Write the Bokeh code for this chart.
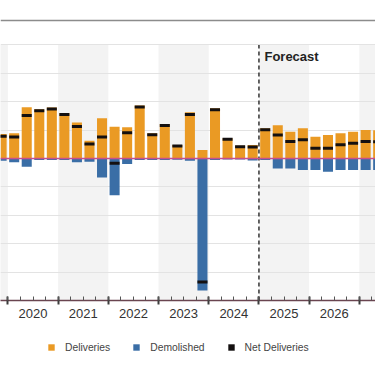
from bokeh.plotting import figure
from bokeh.layouts import column
from bokeh.models import (LinearAxis, FixedTicker, Grid, Span, Label, Legend,
                          LegendItem, Range1d)
from bokeh.embed import file_html
from bokeh.resources import INLINE

# ---- data ----
periods = ["2019 Q4",
           "2020 Q1", "2020 Q2", "2020 Q3", "2020 Q4",
           "2021 Q1", "2021 Q2", "2021 Q3", "2021 Q4",
           "2022 Q1", "2022 Q2", "2022 Q3", "2022 Q4",
           "2023 Q1", "2023 Q2", "2023 Q3", "2023 Q4",
           "2024 Q1", "2024 Q2", "2024 Q3", "2024 Q4",
           "2025 Q1", "2025 Q2", "2025 Q3", "2025 Q4",
           "2026 Q1", "2026 Q2", "2026 Q3", "2026 Q4",
           "2027 Q1", "2027 Q2"]
deliveries = [433,
              445, 905, 869, 898,
              799, 633, 315, 710,
              562, 551, 933, 445,
              610, 239, 816, 150,
              887, 357, 226, 239,
              534, 587, 474, 534,
              385, 415, 445, 474,
              504, 500]
demolished = [40,
              67, 145, 27, 27,
              25, 67, 57, 332,
              645, 97, 27, 27,
              27, 20, 39, 2324,
              27, 18, 18, 35,
              27, 173, 173, 203,
              203, 233, 203, 203,
              203, 203]
net_deliveries = [393,
                  378, 760, 842, 871,
                  774, 566, 258, 378,
                  -83, 454, 906, 418,
                  583, 219, 777, -2174,
                  860, 339, 208, 204,
                  507, 414, 301, 331,
                  182, 182, 242, 271,
                  301, 297]
year_labels = [2019, 2020, 2021, 2022, 2023, 2024, 2025, 2026, 2027]
shaded_years = [2019, 2021, 2023, 2025, 2027]
forecast_start = 2025
y_ticks = [-2500, -2000, -1500, -1000, -500, 0, 500, 1000, 1500, 2000]
legend_labels = ["Deliveries", "Demolished", "Net Deliveries"]

# ---- styling ----
FONT = "Liberation Sans"
ORANGE = "#EA9A24"
BLUE = "#3A6EA6"
BLACK = "#141010"

x = [int(p[:4]) + (int(p[-1]) - 0.5) / 4 for p in periods]
neg_demo = [-d for d in demolished]

x0, x1 = 2019.8526, 2027.3215
p = figure(width=375, height=332,
           x_range=Range1d(x0, x1), y_range=Range1d(-2500, 2466.7),
           x_axis_type=None, y_axis_type=None,
           output_backend="svg", toolbar_location=None,
           min_border_left=0, min_border_right=0,
           min_border_top=18, min_border_bottom=32,
           outline_line_color=None,
           background_fill_color="white", border_fill_color="white")

# alternating year shading
p.quad(left=shaded_years, right=[y + 1 for y in shaded_years],
       bottom=y_ticks[0], top=y_ticks[-1],
       fill_color="#f3f3f3", line_color=None, level="image")

p.add_layout(Grid(dimension=1, ticker=FixedTicker(ticks=y_ticks),
                  grid_line_color="#e3e3e3", grid_line_width=1))

p.vbar(x=x, top=deliveries, bottom=0, width=0.2,
       fill_color=ORANGE, line_color=None)
p.vbar(x=x, top=0, bottom=neg_demo, width=0.2,
       fill_color=BLUE, line_color=None)
p.rect(x=x, y=net_deliveries, width=0.2, height=3,
       height_units="screen", fill_color=BLACK, line_color=None)

p.add_layout(Span(location=0, dimension="width", line_color="#c8508a",
                  line_width=1.5))
p.add_layout(Span(location=2431.5, dimension="width", line_color="#8c8c8c",
                  line_width=1.5))

p.segment(x0=forecast_start, y0=y_ticks[0], x1=forecast_start, y1=y_ticks[-1],
          line_dash="4 3", line_color="#333333", line_width=1.5)
p.add_layout(Label(x=forecast_start, y=y_ticks[-1], x_offset=5.5, y_offset=-12,
                   text="Forecast", text_font=FONT, text_font_size="13px",
                   text_font_style="bold", text_color="#222222",
                   text_baseline="alphabetic"))

# x axis: line + ticks at year boundaries, minor ticks at quarters
bounds = [y + 1 for y in year_labels]
qt = []
v = 2019.75
while v < x1:
    qt.append(v)
    v += 0.25
axA = LinearAxis(ticker=FixedTicker(ticks=[2019] + bounds, minor_ticks=qt),
                 major_label_text_font_size="0px", major_label_text_alpha=0,
                 major_label_standoff=0,
                 axis_line_color="#6a4550", axis_line_width=1.5,
                 major_tick_in=4, major_tick_out=4, major_tick_line_width=2,
                 major_tick_line_color="#3c3c3c",
                 minor_tick_in=4, minor_tick_out=0, minor_tick_line_width=1,
                 minor_tick_line_color="#555555")
p.add_layout(axA, "below")

axB = LinearAxis(ticker=FixedTicker(ticks=[y + 0.5 for y in year_labels], minor_ticks=[]),
                 major_label_overrides={y + 0.5: str(y) for y in year_labels},
                 axis_line_color=None, major_tick_line_color=None,
                 minor_tick_line_color=None, major_tick_out=0, major_tick_in=0,
                 major_label_standoff=4,
                 major_label_text_font=FONT, major_label_text_font_size="13px",
                 major_label_text_color="#333333")
p.add_layout(axB, "below")

# ---- legend strip below the chart (proxy glyphs kept outside its view) ----
q = figure(width=375, height=34, x_range=Range1d(0, 1), y_range=Range1d(0, 1),
           x_axis_type=None, y_axis_type=None,
           output_backend="svg", toolbar_location=None,
           min_border=0, outline_line_color=None,
           background_fill_color="white", border_fill_color="white")
g_del = q.vbar(x=[5], top=[5], bottom=[4], width=0.1,
               fill_color=ORANGE, line_color=None)
g_dem = q.vbar(x=[5], top=[5], bottom=[4], width=0.1,
               fill_color=BLUE, line_color=None)
g_net = q.rect(x=[5], y=[5], width=0.1, height=0.1,
               fill_color=BLACK, line_color=None)
legend = Legend(items=[LegendItem(label=legend_labels[0], renderers=[g_del]),
                       LegendItem(label=legend_labels[1], renderers=[g_dem]),
                       LegendItem(label=legend_labels[2], renderers=[g_net])],
                orientation="horizontal", location=(47, 13),
                glyph_width=8, glyph_height=8, label_height=12,
                label_standoff=10, spacing=22, padding=0, margin=0,
                label_text_font=FONT, label_text_font_size="10.3px",
                label_text_color="#444444", border_line_color=None,
                background_fill_alpha=0)
q.add_layout(legend, "center")

layout = column(p, q, spacing=0)
open("out.html", "w").write(file_html(layout, INLINE))
